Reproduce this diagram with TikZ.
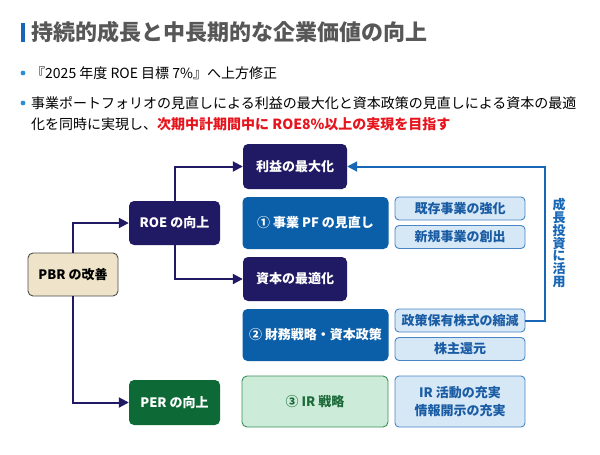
\documentclass[tikz,border=0pt]{standalone}
\usepackage{fontspec}
\setmainfont{Noto Sans CJK JP}
\usetikzlibrary{arrows.meta}
\definecolor{navy}{HTML}{1F1A63}
\definecolor{midblue}{HTML}{0B5EA8}
\definecolor{paleblue}{HTML}{D6E7F6}
\definecolor{edgeblue}{HTML}{4A86C6}
\definecolor{textblue}{HTML}{1A5CA4}
\definecolor{linkblue}{HTML}{1767B6}
\definecolor{darkgreen}{HTML}{0D6A36}
\definecolor{palegreen}{HTML}{CCEBD8}
\definecolor{edgegreen}{HTML}{3A8E5B}
\definecolor{textgreen}{HTML}{1C6A3A}
\definecolor{beige}{HTML}{EFE4C9}
\definecolor{titlegray}{HTML}{575757}
\definecolor{dotblue}{HTML}{2A8FD4}
\definecolor{alertred}{HTML}{E6141D}
\tikzset{
  box/.style={rounded corners=5pt, inner sep=0pt, align=center,
    font=\bfseries\fontsize{13}{18}\selectfont},
  navybox/.style={box, fill=navy, text=white, minimum width=104pt, minimum height=45pt},
  keybox/.style={box, fill=navy, text=white, minimum width=91pt, minimum height=44pt},
  bluebox/.style={box, fill=midblue, text=white, minimum width=146pt, minimum height=52pt},
  subbox/.style={box, rounded corners=4pt, fill=paleblue, draw=edgeblue, line width=0.9pt,
    text=textblue, minimum width=130pt, minimum height=23pt},
  link/.style={draw=navy, line width=2pt, -{Triangle[length=10pt, width=10pt]}},
  bullet/.style={anchor=west, inner sep=0pt, font=\fontsize{14}{18}\selectfont}
}
\newcommand{\boxnode}[4] {\node at (#1) (#2) [#3] {#4};}
\newcommand{\branch}[2] {\draw [link] (#1) |- (#2);}
\newcommand{\dotmark}[1] {\fill [dotblue] (#1) circle (2.4pt);}

\begin{document}
\begin{tikzpicture}[x=1pt, y=-1pt]
\useasboundingbox (0,0) rectangle (600,455);

% heading and bullets
\fill [linkblue] (20.5,23) rectangle (25,42);
\node [anchor=west, inner sep=0pt, text=titlegray, font=\bfseries\fontsize{22}{26}\selectfont]
  (title) at (31,32) {持続的成長と中長期的な企業価値の向上};
\dotmark{23,73};
\node [bullet] (goal) at (31,73) {『2025 年度 ROE 目標 7\%』へ上方修正};
\dotmark{23,103};
\node [bullet] (plan) at (31,103) {事業ポートフォリオの見直しによる利益の最大化と資本政策の見直しによる資本の最適};
\node [bullet] (plantwo) at (31,124) {化を同時に実現し、\textcolor{alertred}{\bfseries 次期中計期間中に ROE8\%以上の実現を目指す}};

% boxes
\boxnode {73,274.5} {pbr} {box, fill=beige, draw=black!70, line width=0.9pt, minimum width=90pt, minimum height=43pt} {PBR の改善};
\boxnode {174.5,223} {roe} {keybox} {ROE の向上};
\boxnode {174.5,402.5} {per} {keybox, fill=darkgreen, minimum height=45pt} {PER の向上};
\boxnode {295,166.5} {profit} {navybox} {利益の最大化};
\boxnode {295,279} {capital} {navybox, minimum height=44pt} {資本の最適化};
\boxnode {315.5,223} {pf} {bluebox} {① 事業 PF の見直し};
\boxnode {315.5,335} {finance} {bluebox} {② 財務戦略・資本政策};
\boxnode {315,401.5} {ir} {box, fill=palegreen, draw=edgegreen, line width=0.9pt, text=textgreen, minimum width=146pt, minimum height=51pt} {③ IR 戦略};
\boxnode {460,208.5} {exist} {subbox} {既存事業の強化};
\boxnode {460,237} {new} {subbox} {新規事業の創出};
\boxnode {460,320.5} {holding} {subbox} {政策保有株式の縮減};
\boxnode {460,349} {return} {subbox} {株主還元};
\boxnode {460,401.5} {irwork} {subbox, minimum height=51pt} {IR 活動の充実\\情報開示の充実};

% connectors
\branch{pbr.north}{roe.west};
\branch{pbr.south}{per.west};
\branch{roe.north}{profit.west};
\branch{roe.south}{capital.west};
\coordinate (turn) at (545,320.5);
\draw [link, draw=linkblue] (holding.east) -- (turn) |- (profit.east);
\node [text=linkblue, align=center, inner sep=0pt, font=\bfseries\fontsize{13}{12.9}\selectfont]
  (invest) at (559,243) {成\\長\\投\\資\\に\\活\\用};

\end{tikzpicture}
\end{document}
